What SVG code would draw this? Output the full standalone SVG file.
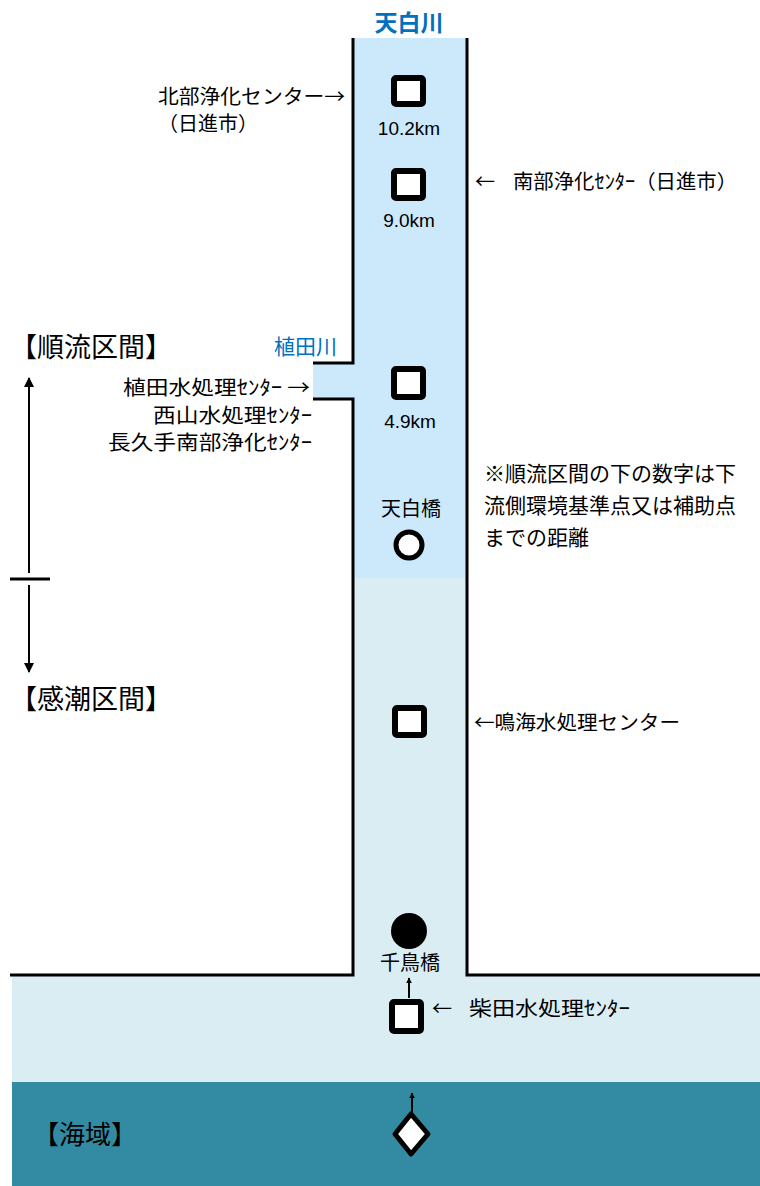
<svg xmlns="http://www.w3.org/2000/svg" width="760" height="1186" viewBox="0 0 760 1186">
<style>
.t{font-family:"Noto Sans CJK JP","Noto Sans",sans-serif;font-size:20px;fill:#000}
.big{font-size:27px}
.blue{fill:#0070c0}
.km{font-family:"Liberation Sans",Arial,sans-serif;font-size:19px;fill:#000;text-anchor:middle}
.sq{fill:#fff;stroke:#000;stroke-width:6}
.edge{fill:none;stroke:#000;stroke-width:3}
.ln{fill:none;stroke:#000;stroke-width:2}
</style>
<defs>
<marker id="ah" viewBox="0 0 10 10" refX="9" refY="5" markerWidth="6" markerHeight="6" markerUnits="userSpaceOnUse" orient="auto">
<path d="M0,0 L10,5 L0,10 z" fill="#000"/>
</marker>
<marker id="ahb" viewBox="0 0 10 10" refX="9" refY="5" markerWidth="10" markerHeight="10" markerUnits="userSpaceOnUse" orient="auto">
<path d="M0,0 L10,5 L0,10 z" fill="#000"/>
</marker>
</defs>
<rect width="760" height="1186" fill="#fff"/>
<g id="water">
<rect x="353" y="38" width="114" height="540" fill="#cce9fb"/>
<rect x="313" y="363" width="42" height="36" fill="#cce9fb"/>
<rect x="353" y="578" width="114" height="398" fill="#daedf3"/>
<rect x="12" y="975" width="748" height="107" fill="#daedf3"/>
<rect x="12" y="1082" width="748" height="104" fill="#338ba3"/>
</g>
<g id="banks">
<path class="edge" d="M353,38 V363 H313"/>
<path class="edge" d="M313,399 H353 V975 H10"/>
<path class="edge" d="M467,38 V975 H760"/>
</g>
<g id="connectors">
<line class="ln" x1="29" y1="573" x2="29" y2="378" marker-end="url(#ahb)"/>
<line class="ln" x1="29" y1="585" x2="29" y2="672" marker-end="url(#ahb)"/>
<line x1="10" y1="579" x2="50" y2="579" stroke="#000" stroke-width="3"/>
<line class="ln" x1="409" y1="998" x2="409" y2="978" marker-end="url(#ah)"/>
<line class="ln" x1="412" y1="1112" x2="412" y2="1093" marker-end="url(#ah)"/>
</g>
<g id="title"><text class="t blue" x="409" y="31" text-anchor="middle" style="font-weight:bold;font-size:23px">天白川</text></g>
<g id="n-hokubu">
<rect class="sq" x="394" y="78" width="29" height="26" rx="2"/>
<text class="km" x="409" y="135">10.2km</text>
<text class="t" x="158" y="104" textLength="187" lengthAdjust="spacingAndGlyphs">北部浄化センター→</text>
<text class="t" x="158" y="131">（日進市）</text>
</g>
<g id="n-nanbu">
<rect class="sq" x="394" y="171" width="29" height="27" rx="2"/>
<text class="km" x="409" y="227">9.0km</text>
<text class="t" x="475" y="189">←</text>
<text class="t" x="513" y="189" textLength="224" lengthAdjust="spacingAndGlyphs">南部浄化ｾﾝﾀｰ（日進市）</text>
</g>
<g id="n-ueda">
<rect class="sq" x="394" y="369" width="29" height="28" rx="2"/>
<text class="km" x="410" y="428">4.9km</text>
<text class="t blue" x="337" y="354" text-anchor="end" style="font-size:21px">植田川</text>
<text class="t" x="123" y="395" textLength="187" lengthAdjust="spacingAndGlyphs">植田水処理ｾﾝﾀｰ →</text>
<text class="t" x="153" y="423" textLength="159" lengthAdjust="spacingAndGlyphs">西山水処理ｾﾝﾀｰ</text>
<text class="t" x="108" y="450" textLength="204" lengthAdjust="spacingAndGlyphs">長久手南部浄化ｾﾝﾀｰ</text>
</g>
<g id="n-tenpaku">
<text class="t" x="411" y="516" text-anchor="middle">天白橋</text>
<circle cx="409" cy="545" r="13" fill="#fff" stroke="#000" stroke-width="5"/>
</g>
<g id="note">
<text class="t" x="484" y="481" style="font-size:21px">※順流区間の下の数字は下</text>
<text class="t" x="484" y="513" style="font-size:21px">流側環境基準点又は補助点</text>
<text class="t" x="484" y="545" style="font-size:21px">までの距離</text>
</g>
<g id="sections">
<text class="t big" x="10" y="357">【順流区間】</text>
<text class="t big" x="10" y="709">【感潮区間】</text>
<text class="t" x="33" y="1144" style="font-size:26px">【海域】</text>
</g>
<g id="n-narumi">
<rect class="sq" x="395" y="708" width="29" height="27" rx="2"/>
<text class="t" x="474" y="730" textLength="206" lengthAdjust="spacingAndGlyphs">←鳴海水処理センター</text>
</g>
<g id="n-chidori">
<circle cx="409" cy="931" r="18" fill="#000"/>
<text class="t" x="410" y="970" text-anchor="middle">千鳥橋</text>
</g>
<g id="n-shibata">
<rect class="sq" x="392" y="1002" width="29" height="29" rx="2"/>
<text class="t" x="432" y="1016">←</text>
<text class="t" x="469" y="1016" textLength="161" lengthAdjust="spacingAndGlyphs">柴田水処理ｾﾝﾀｰ</text>
</g>
<g id="n-sea">
<path d="M411,1114 L428,1134 L411,1154 L395,1134 Z" fill="#fff" stroke="#000" stroke-width="5" stroke-linejoin="round"/>
</g>
</svg>
